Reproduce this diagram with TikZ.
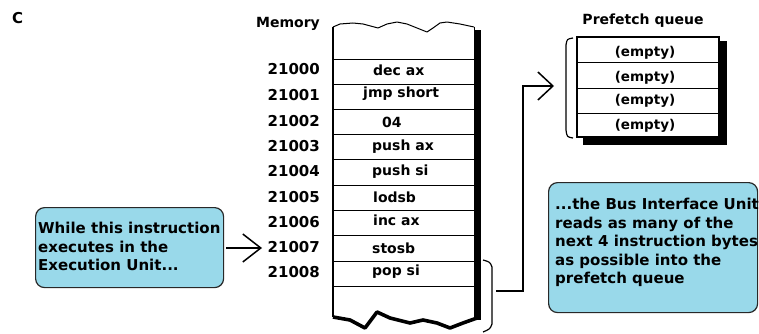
\documentclass[tikz,border=0pt]{standalone}
\usepackage{fontspec}
\setmainfont{DejaVu Sans}
\usetikzlibrary{arrows.meta}
\definecolor{callblue}{RGB}{153,217,234}
\definecolor{callline}{RGB}{40,40,40}
\begin{document}
\begin{tikzpicture}[x=1pt,y=-1pt,
  every node/.style={inner sep=0pt, font=\bfseries\fontsize{15}{18.5}\selectfont},
  small/.style={font=\bfseries\fontsize{14}{18}\selectfont},
  lbl/.style={anchor=base east},
  cell/.style={anchor=base west, small},
  qtext/.style={anchor=base, font=\bfseries\fontsize{13.5}{18}\selectfont},
  callout/.style={draw=callline, line width=1.2pt, fill=callblue, rounded corners=9pt},
  ctext/.style={align=left, anchor=north west},
  rowline/.style={line width=0.8pt},
  edge/.style={line width=1.4pt},
  conn/.style={line width=1.5pt},
]
\useasboundingbox (0,0) rectangle (759,334);

% C label
\node[anchor=base west] (clabel) at (12,24) {\fontsize{15}{18}\selectfont C};

% ---------------- Memory column ----------------
\node[lbl, small] (memlabel) at (320,28) {Memory};
% shadow bar
\fill[black] (474,30) rectangle (481,320);
% column body
\path[fill=white] (333,27) -- (340,24) -- (353,23) -- (363,24) -- (378,28) -- (387,24) -- (397,22)
  -- (407,24) -- (417,28) -- (427,32) -- (433,28) -- (440,23) -- (447,22) -- (460,24) -- (474,27)
  -- (474,317) -- (463,323) -- (450,328) -- (437,323) -- (423,320) -- (410,323) -- (390,318)
  -- (377,311) -- (365,328) -- (350,320) -- (333,317) -- cycle;
\draw[line width=1pt, line join=round] (333,27) -- (340,24) -- (353,23) -- (363,24) -- (378,28) -- (387,24) -- (397,22)
  -- (407,24) -- (417,28) -- (427,32) -- (433,28) -- (440,23) -- (447,22) -- (460,24) -- (474,27);
\draw[edge] (333,27) -- (333,317);
\draw[line width=0.9pt] (474,27) -- (474,317);
\draw[line width=3.6pt, line join=round] (333,317) -- (350,320) -- (365,328) -- (377,312) -- (390,318)
  -- (410,323) -- (423,320) -- (437,323) -- (450,328) -- (463,323) -- (477,318);
\foreach \yy in {59,84,109,134,159,185,210,235,261,286}
  \draw[rowline] (333,\yy) -- (474,\yy);

% addresses
\node[lbl] (a0) at (320,75)  {21000};
\node[lbl] (a1) at (320,101) {21001};
\node[lbl] (a2) at (320,126) {21002};
\node[lbl] (a3) at (320,151) {21003};
\node[lbl] (a4) at (320,176) {21004};
\node[lbl] (a5) at (320,202) {21005};
\node[lbl] (a6) at (320,227) {21006};
\node[lbl] (a7) at (320,252) {21007};
\node[lbl] (a8) at (320,277) {21008};

% contents
\node[cell] (m0) at (373,76)  {dec ax};
\node[cell] (m1) at (363,98)  {jmp short};
\node[cell] (m2) at (382,127) {04};
\node[cell] (m3) at (372,150) {push ax};
\node[cell] (m4) at (372,175) {push si};
\node[cell] (m5) at (373,202) {lodsb};
\node[cell] (m6) at (373,225) {inc ax};
\node[cell] (m7) at (372,253) {stosb};
\node[cell] (m8) at (372,275) {pop si};

% brace right of memory
\draw[line width=1.2pt, line join=round] (483,260) .. controls (490,262) .. (492,267) -- (492,324) .. controls (490,329) .. (483,332);
\coordinate (bracemid) at (496,291);

% ---------------- Prefetch queue ----------------
\node[anchor=base, small] (qlabel) at (643,25) {Prefetch queue};
\fill[black] (583,41) rectangle (727,145);
\draw[edge, fill=white] (577,37) rectangle (719,137);
\foreach \yy in {62,88,113}
  \draw[rowline] (577,\yy) -- (719,\yy);
\node[qtext] (q1) at (645,57)  {(empty)};
\node[qtext] (q2) at (645,82)  {(empty)};
\node[qtext] (q3) at (645,104) {(empty)};
\node[qtext] (q4) at (645,129) {(empty)};
\draw[line width=1.2pt] (573,38) .. controls (567,39) .. (566,45) -- (566,130) .. controls (567,137) .. (573,138);
\coordinate (qin) at (554,86);

% connector memory -> queue
\draw[conn, -{Straight Barb[length=15pt,width=28pt]}] (bracemid) -- (523,291) -- (523,86) -- (qin);

% ---------------- Callouts ----------------
\node[callout, minimum width=188pt, minimum height=80pt, anchor=north west] (eu) at (35,207) {};
\node[ctext] (eutext) at (38,222) {While this instruction\\executes in the\\Execution Unit...};
\coordinate (euout) at (226,248);
\coordinate (a7in) at (262,248);
\draw[conn, -{Straight Barb[length=18pt,width=28pt]}] (euout) -- (a7in);

\node[callout, minimum width=209pt, minimum height=130pt, anchor=north west] (biu) at (548,182) {};
\node[ctext] (biutext) at (555,198) {...the Bus Interface Unit\\reads as many of the\\next 4 instruction bytes\\as possible into the\\prefetch queue};
\end{tikzpicture}
\end{document}
